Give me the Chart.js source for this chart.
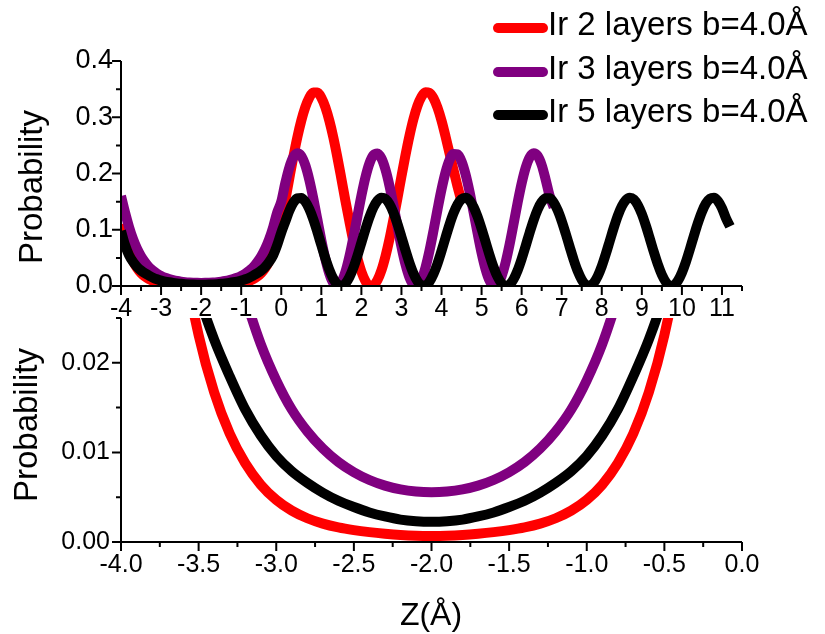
<!DOCTYPE html>
<html>
<head>
<meta charset="utf-8">
<script src="https://cdn.jsdelivr.net/npm/chart.js@4.4.1/dist/chart.umd.min.js"></script>
<style>
  body { margin: 0; background: #fff; }
  #wrap { position: relative; width: 825px; height: 634px; }
  #wrap canvas { position: absolute; left: 0; top: 0; }
</style>
</head>
<body>
<div id="wrap">
  <canvas id="overview" width="825" height="634"></canvas>
  <canvas id="detail" width="825" height="634"></canvas>
</div>
<script>
// Z positions (Å)
const zAxis = [
  -4.0,-3.9,-3.8,-3.7,-3.6,-3.5,-3.4,-3.3,-3.2,-3.1,
  -3.0,-2.9,-2.8,-2.7,-2.6,-2.5,-2.4,-2.3,-2.2,-2.1,
  -2.0,-1.9,-1.8,-1.7,-1.6,-1.5,-1.4,-1.3,-1.2,-1.1,
  -1.0,-0.9,-0.8,-0.7,-0.6,-0.5,-0.4,-0.3,-0.2,-0.1,
  0.0,0.1,0.2,0.3,0.4,0.5,0.6,0.7,0.8,0.9,
  1.0,1.1,1.2,1.3,1.4,1.5,1.6,1.7,1.8,1.9,
  2.0,2.1,2.2,2.3,2.4,2.5,2.6,2.7,2.8,2.9,
  3.0,3.1,3.2,3.3,3.4,3.5,3.6,3.7,3.8,3.9,
  4.0,4.1,4.2,4.3,4.4,4.5,4.6,4.7,4.8,4.9,
  5.0,5.1,5.2,5.3,5.4,5.5,5.6,5.7,5.8,5.9,
  6.0,6.1,6.2,6.3,6.4,6.5,6.6,6.7,6.8,6.9,
  7.0,7.1,7.2,7.3,7.4,7.5,7.6,7.7,7.8,7.9,
  8.0,8.1,8.2,8.3,8.4,8.5,8.6,8.7,8.8,8.9,
  9.0,9.1,9.2,9.3,9.4,9.5,9.6,9.7,9.8,9.9,
  10.0,10.1,10.2,10.3,10.4,10.5,10.6,10.7,10.8,10.9,
  11.0,11.1,11.2
];

// Ir 2 layers (z = -4.0 ... 4.5)
const ir2 = [
  0.110,0.083,0.0617,0.0445,0.0320,0.0231,0.0167,0.0121,0.0088,0.0064,
  0.0047,0.0035,0.00265,0.00205,0.00163,0.00133,0.0011,0.00092,0.00078,0.0007,
  0.00068,0.0007,0.00078,0.00092,0.0011,0.00133,0.00163,0.00205,0.00265,0.0035,
  0.0047,0.0064,0.0088,0.0121,0.0167,0.0231,0.0320,0.0445,0.0617,0.083,
  0.115,0.152,0.191,0.229,0.264,0.294,0.318,0.335,0.344,0.344,
  0.335,0.318,0.294,0.264,0.229,0.191,0.152,0.115,0.0796,0.0497,
  0.0256,0.0091,0.0009,0.0013,0.0104,0.0277,0.0525,0.083,0.1185,0.156,
  0.1948,0.2324,0.267,0.2969,0.3204,0.3365,0.3443,0.3434,0.3339,0.317,
  0.294,0.266,0.236,0.206,0.177,0.150
];

// Ir 3 layers (z = -4.0 ... 6.8)
const ir3 = [
  0.160,0.131,0.1052,0.0835,0.0663,0.0528,0.0422,0.0333,0.0273,0.0221,
  0.01805,0.01479,0.01235,0.01043,0.00893,0.00779,0.00692,0.00629,0.00587,0.00563,
  0.00555,0.00563,0.00587,0.00629,0.00692,0.00779,0.00893,0.01043,0.01235,0.01479,
  0.01805,0.0221,0.0273,0.0333,0.0422,0.0528,0.0663,0.0835,0.1052,0.131,
  0.150,0.1827,0.2104,0.2288,0.2359,0.2312,0.2149,0.1888,0.1557,0.1186,
  0.0816,0.0482,0.0218,0.0052,0.0000,0.0068,0.0248,0.0521,0.0863,0.1236,
  0.1604,0.1928,0.2177,0.2325,0.2357,0.2270,0.2073,0.1786,0.1437,0.1062,
  0.0699,0.0385,0.0152,0.0022,0.0009,0.0115,0.0329,0.0629,0.0984,0.1360,
  0.1717,0.2020,0.2238,0.2348,0.2341,0.2216,0.1987,0.1676,0.1314,0.0939,
  0.0589,0.0298,0.0096,0.0004,0.0032,0.0175,0.0420,0.0741,0.1108,0.1482,
  0.1824,0.2102,0.2287,0.2359,0.2312,0.2151,0.1891,0.160,0.140
];

// Ir 5 layers (z = -4.0 ... 11.2)
const ir5 = [
  0.098,0.073,0.055,0.043,0.034,0.0276,0.0226,0.0185,0.0148,0.0119,
  0.0096,0.0079,0.0066,0.0055,0.0046,0.0039,0.0033,0.00285,0.0025,0.00232,
  0.00226,0.00232,0.0025,0.00285,0.0033,0.0039,0.0046,0.0055,0.0066,0.0079,
  0.0096,0.0119,0.0148,0.0185,0.0226,0.0276,0.034,0.043,0.055,0.073,
  0.095,0.1143,0.1336,0.1479,0.1557,0.1564,0.1500,0.1369,0.1185,0.0964,
  0.0726,0.0494,0.0289,0.0129,0.0030,0.0000,0.0043,0.0154,0.0323,0.0534,
  0.0770,0.1006,0.1222,0.1397,0.1516,0.1568,0.1548,0.1457,0.1305,0.1105,
  0.0874,0.0636,0.0412,0.0222,0.0084,0.0010,0.0008,0.0077,0.0212,0.0399,
  0.0622,0.0860,0.1092,0.1294,0.1450,0.1544,0.1569,0.1521,0.1406,0.1233,
  0.1019,0.0784,0.0548,0.0334,0.0162,0.0048,0.0001,0.0026,0.0122,0.0278,
  0.0481,0.0712,0.0950,0.1173,0.1360,0.1494,0.1562,0.1559,0.1485,0.1346,
  0.1155,0.0931,0.0693,0.0463,0.0263,0.0111,0.0021,0.0002,0.0055,0.0175,
  0.0350,0.0567,0.0803,0.1038,0.1250,0.1418,0.1528,0.1570,0.1539,0.1439,
  0.1279,0.1073,0.0841,0.0603,0.0383,0.0199,0.0069,0.0005,0.0014,0.0093,
  0.0236,0.0429,0.0656,0.0894,0.1122,0.1319,0.1467,0.1552,0.1567,0.1509,
  0.1385,0.1205,0.106
];

const seriesNames = ['Ir 2 layers b=4.0\u00C5', 'Ir 3 layers b=4.0\u00C5', 'Ir 5 layers b=4.0\u00C5'];
const seriesColors = ['#ff0000', '#800080', '#000000'];
const seriesValues = [ir2, ir3, ir5];

const FONT = "'Liberation Sans', Arial, sans-serif";

function makeDatasets() {
  return seriesValues.map((vals, k) => ({
    label: seriesNames[k],
    data: vals.map((v, i) => ({ x: zAxis[i], y: v })),
    borderColor: seriesColors[k],
    borderWidth: 10,
    borderJoinStyle: 'round',
    pointRadius: 0,
    cubicInterpolationMode: 'monotone',
    fill: false,
    clip: 0,
    order: 3 - k
  }));
}

const isMult = (v, step) => Math.abs(v / step - Math.round(v / step)) < 1e-6;

// axis lines, tick marks, titles and legend
const decor = {
  id: 'decor',
  afterDatasetsDraw(chart, args, opts) {
    const ctx = chart.ctx, a = chart.chartArea;
    const xs = chart.scales.x, ys = chart.scales.y;
    ctx.save();
    ctx.strokeStyle = '#000';
    ctx.lineWidth = 2;
    ctx.beginPath();
    ctx.moveTo(a.left, a.top);
    ctx.lineTo(a.left, a.bottom);
    ctx.lineTo(a.right, a.bottom);
    xs.ticks.forEach(t => {
      const px = xs.getPixelForValue(t.value);
      ctx.moveTo(px, a.bottom);
      ctx.lineTo(px, a.bottom + (t.label ? 9 : 5));
    });
    ys.ticks.forEach(t => {
      const py = ys.getPixelForValue(t.value);
      ctx.moveTo(a.left, py);
      ctx.lineTo(a.left - (t.label ? 9 : 5), py);
    });
    ctx.stroke();

    ctx.fillStyle = '#000';
    ctx.textBaseline = 'alphabetic';
    // y title
    ctx.save();
    ctx.font = '33px ' + FONT;
    ctx.translate(opts.yTitle.x, opts.yTitle.y);
    ctx.rotate(-Math.PI / 2);
    ctx.textAlign = 'center';
    ctx.fillText('Probability', 0, 0);
    ctx.restore();

    if (opts.xTitle) {
      ctx.font = '32px ' + FONT;
      ctx.textAlign = 'center';
      ctx.fillText('Z(\u00C5)', opts.xTitle.x, opts.xTitle.y);
    }

    if (opts.legend) {
      const rows = [28, 72, 115];
      seriesNames.forEach((name, k) => {
        ctx.strokeStyle = seriesColors[k];
        ctx.lineWidth = 10;
        ctx.lineCap = 'round';
        ctx.beginPath();
        ctx.moveTo(498, rows[k]);
        ctx.lineTo(543, rows[k]);
        ctx.stroke();
        ctx.font = '33px ' + FONT;
        ctx.textAlign = 'left';
        ctx.fillText(name, 548, rows[k] + 7);
      });
    }
    ctx.restore();
  }
};

function makeChart(id, cfg) {
  return new Chart(document.getElementById(id).getContext('2d'), {
    type: 'line',
    data: { datasets: makeDatasets() },
    options: {
      responsive: false,
      animation: false,
      events: [],
      layout: { autoPadding: false, padding: cfg.padding },
      plugins: {
        legend: { display: false },
        tooltip: { enabled: false },
        decor: cfg.decor
      },
      scales: {
        x: {
          type: 'linear',
          min: cfg.xMin, max: cfg.xMax,
          afterFit: s => { s.height = 40; },
          grid: { display: false, drawTicks: false },
          border: { display: false },
          ticks: {
            stepSize: cfg.xStep,
            autoSkip: false,
            maxRotation: 0,
            padding: 8,
            color: '#000',
            font: { family: FONT, size: 25 },
            callback: cfg.xLabel
          }
        },
        y: {
          type: 'linear',
          min: cfg.yMin, max: cfg.yMax,
          afterFit: s => { s.width = 121; },
          grid: { display: false, drawTicks: false },
          border: { display: false },
          ticks: {
            stepSize: cfg.yStep,
            autoSkip: false,
            padding: cfg.yPad,
            color: '#000',
            font: { family: FONT, size: cfg.yFont },
            callback: cfg.yLabel
          }
        }
      }
    },
    plugins: [decor]
  });
}

// upper panel: full profile
makeChart('overview', {
  padding: { left: 0, top: 61, right: 83, bottom: 308 },
  xMin: -4, xMax: 11.5, xStep: 0.5,
  xLabel: v => isMult(v, 1) ? String(Math.round(v)) : '',
  yMin: 0, yMax: 0.4, yStep: 0.05, yPad: 8, yFont: 27,
  yLabel: v => isMult(v, 0.1) ? v.toFixed(1) : '',
  decor: { yTitle: { x: 42, y: 187 }, legend: true }
});

// lower panel: vacuum region zoom
makeChart('detail', {
  padding: { left: 0, top: 318, right: 83, bottom: 52 },
  xMin: -4, xMax: 0, xStep: 0.25,
  xLabel: v => isMult(v, 0.5) ? v.toFixed(1) : '',
  yMin: 0, yMax: 0.025, yStep: 0.005, yPad: 11, yFont: 25,
  yLabel: v => isMult(v, 0.01) ? v.toFixed(2) : '',
  decor: { yTitle: { x: 37, y: 425 }, xTitle: { x: 431, y: 625 } }
});
</script>
</body>
</html>
